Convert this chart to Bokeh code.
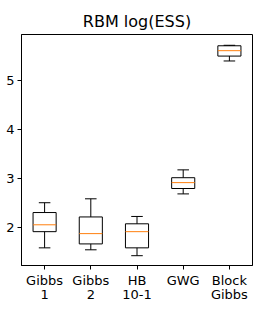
from bokeh.plotting import figure
from bokeh.models import FixedTicker, Range1d, ColumnDataSource
from bokeh.embed import file_html
from bokeh.resources import INLINE

categories = ["Gibbs\n1", "Gibbs\n2", "HB\n10-1", "GWG", "Block\nGibbs"]
whisker_low = [1.59, 1.55, 1.43, 2.69, 5.40]
q1 = [1.92, 1.67, 1.59, 2.80, 5.50]
median = [2.06, 1.88, 1.92, 2.92, 5.61]
q3 = [2.31, 2.22, 2.08, 3.02, 5.71]
whisker_high = [2.51, 2.59, 2.23, 3.18, 5.72]
y_ticks = [2, 3, 4, 5]

pos = list(range(1, len(categories) + 1))
bw = 0.5
cw = 0.25

src = ColumnDataSource(dict(
    x=pos,
    left=[p - bw / 2 for p in pos], right=[p + bw / 2 for p in pos],
    cl=[p - cw / 2 for p in pos], cr=[p + cw / 2 for p in pos],
    lo=whisker_low, q1=q1, med=median, q3=q3, hi=whisker_high,
))

p = figure(frame_width=231, frame_height=231, output_backend="svg", toolbar_location=None,
           x_range=Range1d(0.5, 5.5), y_range=Range1d(1.23, 5.94),
           min_border_left=21, min_border_right=2, min_border_top=34, min_border_bottom=42,
           title="RBM log(ESS)")
p.border_fill_color = "white"
p.background_fill_color = "white"
p.title.align = "center"
p.title.text_font = "DejaVu Sans"
p.title.text_font_size = "16px"
p.title.text_font_style = "normal"
p.title.text_color = "black"
p.title.standoff = 8

p.xgrid.visible = False
p.ygrid.visible = False
p.outline_line_color = "black"
p.outline_line_alpha = 1
p.outline_line_width = 1

for ax in (p.xaxis[0], p.yaxis[0]):
    ax.axis_line_color = "black"
    ax.major_tick_in = 0
    ax.major_tick_out = 4
    ax.major_tick_line_color = "black"
    ax.minor_tick_line_color = None
    ax.major_label_text_font = "DejaVu Sans"
    ax.major_label_text_font_size = "13px"
    ax.major_label_text_color = "black"
    ax.major_label_standoff = 3

p.xaxis[0].major_label_standoff = 3
p.xaxis[0].major_label_text_line_height = 0.95
p.xaxis[0].ticker = FixedTicker(ticks=pos)
p.xaxis[0].major_label_overrides = {pp: c for pp, c in zip(pos, categories)}
p.yaxis[0].ticker = FixedTicker(ticks=y_ticks)

p.segment(x0="x", y0="lo", x1="x", y1="q1", source=src, line_color="black", line_width=1)
p.segment(x0="x", y0="q3", x1="x", y1="hi", source=src, line_color="black", line_width=1)
p.segment(x0="cl", y0="lo", x1="cr", y1="lo", source=src, line_color="black", line_width=1)
p.segment(x0="cl", y0="hi", x1="cr", y1="hi", source=src, line_color="black", line_width=1)
p.quad(left="left", right="right", bottom="q1", top="q3", source=src,
       fill_color=None, line_color="black", line_width=1)
p.segment(x0="left", y0="med", x1="right", y1="med", source=src, line_color="#ff7f0e", line_width=1)

open("out.html", "w").write(file_html(p, INLINE))
